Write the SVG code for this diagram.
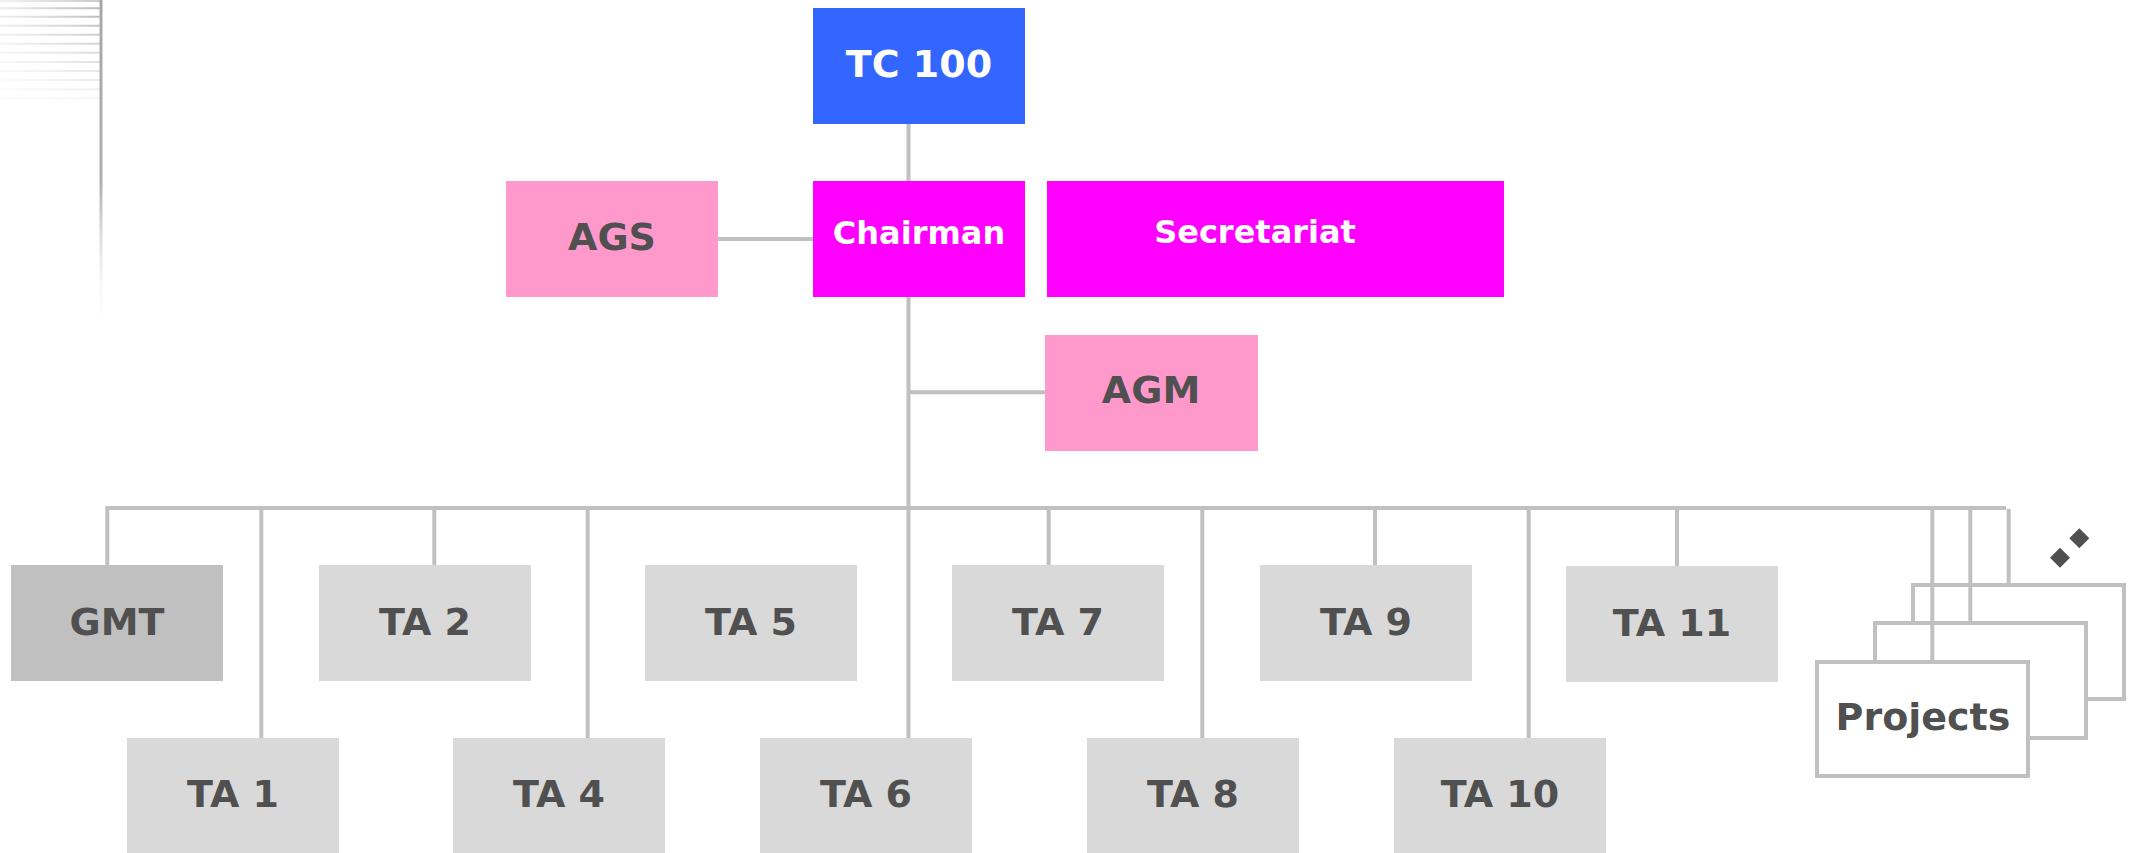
<svg xmlns="http://www.w3.org/2000/svg" width="2134" height="853" viewBox="0 0 2134 853">
<defs>
<linearGradient id="hfade" gradientUnits="userSpaceOnUse" x1="0" y1="0" x2="100" y2="0">
<stop offset="0" stop-color="#c8c8c8" stop-opacity="0.35"/>
<stop offset="1" stop-color="#b4b4b4" stop-opacity="1"/>
</linearGradient>
<linearGradient id="vfade" gradientUnits="userSpaceOnUse" x1="0" y1="0" x2="0" y2="335">
<stop offset="0" stop-color="#a8a8a8"/>
<stop offset="0.55" stop-color="#b0b0b0"/>
<stop offset="1" stop-color="#ffffff" stop-opacity="0"/>
</linearGradient>
</defs>
<style>
.t{font-family:"DejaVu Sans",Verdana,"Liberation Sans",sans-serif;font-weight:bold;text-anchor:middle}
.dk{fill:#505050;font-size:38px}
.wh{fill:#ffffff}
.ta{fill:#d9d9d9}
.pk{fill:#ff99cc}
.mg{fill:#ff00ff}
.ln{stroke:#c0c0c0;stroke-width:4;fill:none}
.pr{fill:#ffffff;stroke:#c0c0c0;stroke-width:4}
</style>
<rect width="2134" height="853" fill="#ffffff"/>
<g id="decoration">
<rect x="99.5" y="0" width="3" height="335" fill="url(#vfade)"/>
<g stroke="url(#hfade)" stroke-width="2">
<line x1="0" y1="1" x2="100" y2="1" opacity="0.7"/>
<line x1="0" y1="8.3" x2="100" y2="8.3" opacity="0.9"/>
<line x1="0" y1="16.7" x2="100" y2="16.7" opacity="0.85"/>
<line x1="0" y1="25.7" x2="100" y2="25.7" opacity="0.75"/>
<line x1="0" y1="34.7" x2="100" y2="34.7" opacity="0.65"/>
<line x1="0" y1="43.7" x2="100" y2="43.7" opacity="0.55"/>
<line x1="0" y1="52.7" x2="100" y2="52.7" opacity="0.45"/>
<line x1="0" y1="62" x2="100" y2="62" opacity="0.38"/>
<line x1="0" y1="71" x2="100" y2="71" opacity="0.3"/>
<line x1="0" y1="80" x2="100" y2="80" opacity="0.24"/>
<line x1="0" y1="89.3" x2="100" y2="89.3" opacity="0.18"/>
<line x1="0" y1="98.3" x2="100" y2="98.3" opacity="0.12"/>
</g>
</g>
<g id="node-tc100"><rect x="813" y="8" width="212" height="116" fill="#3366ff"/><text class="t wh" x="919" y="77" font-size="38">TC 100</text></g>
<g id="node-ags"><rect class="pk" x="506" y="181" width="212" height="116"/><text class="t dk" x="612" y="250">AGS</text></g>
<g id="node-chairman"><rect class="mg" x="813" y="181" width="212" height="116"/><text class="t wh" x="919" y="244" font-size="32">Chairman</text></g>
<g id="node-secretariat"><rect class="mg" x="1047" y="181" width="457" height="116"/><text class="t wh" x="1255" y="243" font-size="32">Secretariat</text></g>
<g id="node-agm"><rect class="pk" x="1045" y="335" width="213" height="116"/><text class="t dk" x="1151" y="403">AGM</text></g>
<g id="node-gmt"><rect x="11" y="565" width="212" height="116" fill="#c0c0c0"/><text class="t dk" x="117" y="635">GMT</text></g>
<g id="node-ta2"><rect class="ta" x="319" y="565" width="212" height="116"/><text class="t dk" x="425" y="634.5">TA 2</text></g>
<g id="node-ta5"><rect class="ta" x="645" y="565" width="212" height="116"/><text class="t dk" x="751" y="634.5">TA 5</text></g>
<g id="node-ta7"><rect class="ta" x="952" y="565" width="212" height="116"/><text class="t dk" x="1058" y="634.5">TA 7</text></g>
<g id="node-ta9"><rect class="ta" x="1260" y="565" width="212" height="116"/><text class="t dk" x="1366" y="634.5">TA 9</text></g>
<g id="node-ta11"><rect class="ta" x="1566" y="566" width="212" height="116"/><text class="t dk" x="1672" y="635.5">TA 11</text></g>
<g id="node-ta1"><rect class="ta" x="127" y="738" width="212" height="116"/><text class="t dk" x="233" y="807">TA 1</text></g>
<g id="node-ta4"><rect class="ta" x="453" y="738" width="212" height="116"/><text class="t dk" x="559" y="807">TA 4</text></g>
<g id="node-ta6"><rect class="ta" x="760" y="738" width="212" height="116"/><text class="t dk" x="866" y="807">TA 6</text></g>
<g id="node-ta8"><rect class="ta" x="1087" y="738" width="212" height="116"/><text class="t dk" x="1193" y="807">TA 8</text></g>
<g id="node-ta10"><rect class="ta" x="1394" y="738" width="212" height="116"/><text class="t dk" x="1500" y="807">TA 10</text></g>
<g id="node-projects">
<rect class="pr" x="1913" y="585" width="211" height="114"/>
<rect class="pr" x="1875" y="623" width="211" height="115"/>
<rect class="pr" x="1817" y="662" width="211" height="114"/>
<text class="t dk" x="1923" y="730">Projects</text>
<g fill="#505050">
<path d="M2060 547.7 L2070 557.7 L2060 567.7 L2050 557.7 Z"/>
<path d="M2079.3 528.3 L2089.3 538.3 L2079.3 548.3 L2069.3 538.3 Z"/>
</g>
</g>
<g id="connectors" class="ln">
<line x1="908.5" y1="124" x2="908.5" y2="181"/>
<line x1="718" y1="239" x2="813" y2="239"/>
<line x1="908.5" y1="297" x2="908.5" y2="738"/>
<line x1="908.5" y1="392.3" x2="1045" y2="392.3"/>
<path d="M107.3 565 V508 H2006"/>
<line x1="261.3" y1="508" x2="261.3" y2="738"/>
<line x1="434.3" y1="508" x2="434.3" y2="565"/>
<line x1="587.7" y1="508" x2="587.7" y2="738"/>
<line x1="1048.7" y1="508" x2="1048.7" y2="565"/>
<line x1="1202.3" y1="508" x2="1202.3" y2="738"/>
<line x1="1375" y1="508" x2="1375" y2="565"/>
<line x1="1528.7" y1="508" x2="1528.7" y2="738"/>
<line x1="1677" y1="508" x2="1677" y2="566"/>
<line x1="1932.3" y1="508" x2="1932.3" y2="662"/>
<line x1="1970.3" y1="508" x2="1970.3" y2="623"/>
<line x1="2008.7" y1="509" x2="2008.7" y2="585"/>
</g>
</svg>
